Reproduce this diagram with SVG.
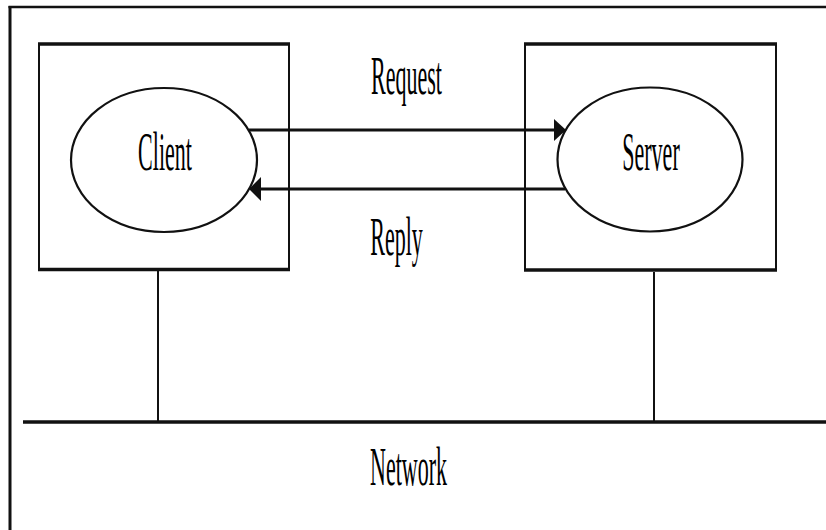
<svg xmlns="http://www.w3.org/2000/svg" width="826" height="530" viewBox="0 0 826 530">
  <defs>
    <style>
      .box { fill: #fff; stroke: #111; stroke-width: 2; }
      .edge { stroke: #111; stroke-width: 3.5; fill: none; }
      .oval { fill: #fff; stroke: #111; stroke-width: 2.2; }
      .wire { stroke: #111; stroke-width: 2; fill: none; }
      .bus { stroke: #111; stroke-width: 3.5; fill: none; }
      .flow { stroke: #111; stroke-width: 3; fill: none; }
      .head { fill: #111; stroke: none; }
      .lbl { font-family: "Liberation Serif", "Times New Roman", serif; font-size: 55px; fill: #000; text-anchor: middle; }
    </style>
  </defs>

  <rect width="826" height="530" fill="#fff"/>

  <!-- outer frame (top and left edges) -->
  <g id="frame">
    <line class="edge" x1="8.5" y1="7" x2="826" y2="7" style="stroke-width:2.5"/>
    <line class="edge" x1="10" y1="6" x2="10" y2="530" style="stroke-width:3"/>
  </g>

  <!-- client host -->
  <g id="client-host">
    <rect class="box" x="39" y="44" width="250" height="225.5"/>
    <line class="edge" x1="38" y1="44" x2="290" y2="44"/>
    <line class="edge" x1="38" y1="269.5" x2="290" y2="269.5"/>
  </g>
  <g id="client">
    <ellipse class="oval" cx="164" cy="160" rx="93" ry="72"/>
    <text class="lbl" transform="translate(165,170) scale(0.4,1)">Client</text>
  </g>

  <!-- server host -->
  <g id="server-host">
    <rect class="box" x="525" y="44" width="251" height="226"/>
    <line class="edge" x1="524" y1="44" x2="777" y2="44"/>
    <line class="edge" x1="524" y1="270" x2="777" y2="270"/>
  </g>
  <g id="server">
    <ellipse class="oval" cx="650" cy="159.5" rx="92.5" ry="72"/>
    <text class="lbl" transform="translate(651,170) scale(0.4,1)">Server</text>
  </g>

  <!-- network bus -->
  <g id="network">
    <line class="bus" x1="23" y1="422" x2="826" y2="422"/>
    <text class="lbl" transform="translate(408.5,485) scale(0.4,1)">Network</text>
  </g>

  <!-- connectors -->
  <g id="connectors">
    <line class="wire" x1="158" y1="271" x2="158" y2="421"/>
    <line class="wire" x1="654" y1="272" x2="654" y2="421"/>

    <line class="flow" x1="249" y1="130" x2="556" y2="130"/>
    <polygon class="head" points="554,119 566,130 554,141"/>
    <text class="lbl" transform="translate(406.5,94) scale(0.4,1)">Request</text>

    <line class="flow" x1="565" y1="189" x2="259" y2="189"/>
    <polygon class="head" points="261,177 249,189 261,201"/>
    <text class="lbl" transform="translate(396.5,255) scale(0.4,1)">Reply</text>
  </g>
</svg>
